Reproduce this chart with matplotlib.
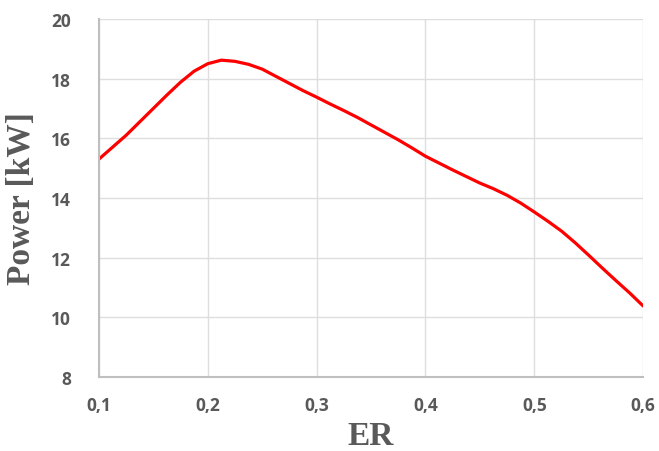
import matplotlib
matplotlib.use("Agg")
import matplotlib.pyplot as plt
from matplotlib.ticker import FuncFormatter

# equivalence ratio vs. output power
er = [0.1000, 0.1125, 0.1250, 0.1375, 0.1500, 0.1625, 0.1750, 0.1875, 0.2000,
      0.2125, 0.2250, 0.2375, 0.2500, 0.2625, 0.2750, 0.2875, 0.3000, 0.3125,
      0.3250, 0.3375, 0.3500, 0.3625, 0.3750, 0.3875, 0.4000, 0.4125, 0.4250,
      0.4375, 0.4500, 0.4625, 0.4750, 0.4875, 0.5000, 0.5125, 0.5250, 0.5375,
      0.5500, 0.5625, 0.5750, 0.5875, 0.6000]
power_kw = [15.30, 15.70, 16.10, 16.55, 17.00, 17.45, 17.88, 18.25, 18.50,
            18.62, 18.58, 18.48, 18.32, 18.08, 17.84, 17.60, 17.38, 17.15,
            16.93, 16.70, 16.45, 16.20, 15.95, 15.68, 15.40, 15.17, 14.94,
            14.72, 14.50, 14.31, 14.09, 13.83, 13.53, 13.22, 12.89, 12.50,
            12.08, 11.65, 11.23, 10.82, 10.38]

x_ticks = [0.1, 0.2, 0.3, 0.4, 0.5, 0.6]
y_ticks = [8, 10, 12, 14, 16, 18, 20]

TICK_COLOR = "#595959"
GRID_COLOR = "#dedede"

fig = plt.figure(figsize=(6.59, 4.52), dpi=100)
ax = fig.add_axes([0.150, 0.1637, 0.826, 0.7921])

ax.plot(er, power_kw, color="#ff0000", linewidth=2.3,
        solid_capstyle="round", solid_joinstyle="round")

ax.set_xlim(0.1, 0.6)
ax.set_ylim(8, 20)
ax.set_xticks(x_ticks)
ax.set_yticks(y_ticks)
ax.xaxis.set_major_formatter(FuncFormatter(lambda v, _: f"{v:.1f}".replace(".", ",")))
ax.yaxis.set_major_formatter(FuncFormatter(lambda v, _: f"{v:.0f}"))

ax.grid(True, color=GRID_COLOR, linewidth=1.0)
ax.set_axisbelow(True)
for side in ("top", "right"):
    ax.spines[side].set_visible(False)
for side in ("left", "bottom"):
    ax.spines[side].set_color("#bfbfbf")
    ax.spines[side].set_linewidth(1.5)

ax.tick_params(length=0, colors=TICK_COLOR, labelsize=12.5)
ax.tick_params(axis="x", pad=14)
ax.tick_params(axis="y", pad=20)
for lbl in ax.get_xticklabels() + ax.get_yticklabels():
    lbl.set_fontfamily("Open Sans")
    lbl.set_fontweight("bold")

ax.set_xlabel("ER", family="Liberation Serif", fontweight="bold",
              fontsize=24, color=TICK_COLOR, labelpad=4)
ax.set_ylabel("Power [kW]", family="Liberation Serif", fontweight="bold",
              fontsize=24, color=TICK_COLOR, labelpad=10)

fig.savefig("out.png", dpi=100)
